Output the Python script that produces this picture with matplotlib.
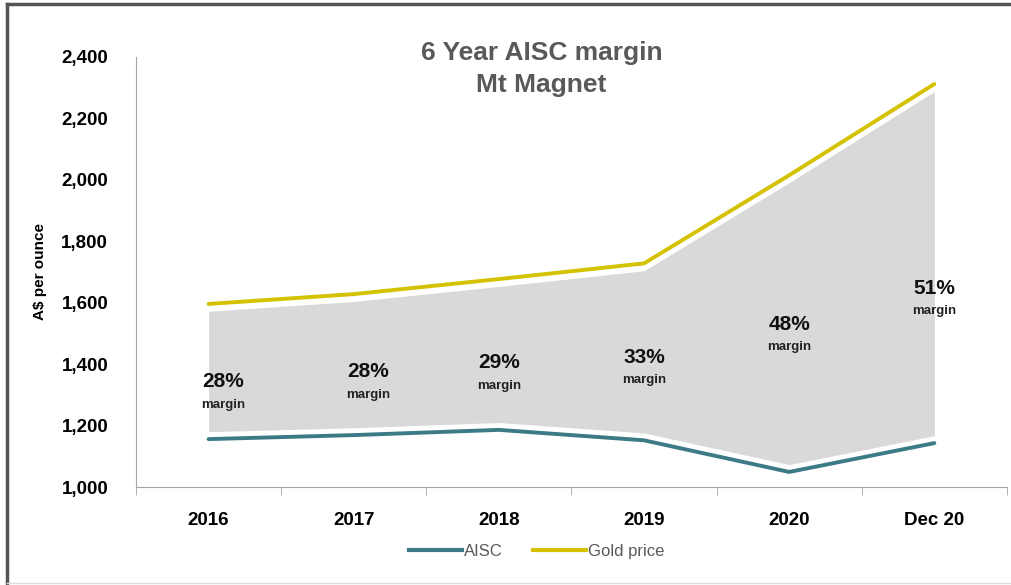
import numpy as np
import matplotlib.pyplot as plt
from matplotlib.lines import Line2D

tahun = ['2016', '2017', '2018', '2019', '2020', 'Dec 20']
harga_emas = [1596, 1628, 1677, 1728, 2015, 2312]
aisc = [1156, 1169, 1186, 1152, 1049, 1143]
label_margin = ['28%', '28%', '29%', '33%', '48%', '51%']
# posisi teks margin (nilai y)
posisi_label = [1342, 1375, 1404, 1423, 1530, 1647]

font = ['Liberation Sans Narrow', 'Liberation Sans', 'DejaVu Sans']
plt.rcParams['font.family'] = font

warna_aisc = '#3c7a86'
warna_emas = '#d4c200'
celah = 24

fig = plt.figure(figsize=(10.12, 5.85), dpi=100)
ax = fig.add_axes([0.1344, 0.1675, 0.8606, 0.7351])

x = np.arange(len(tahun))
emas = np.array(harga_emas)
biaya = np.array(aisc)
ax.fill_between(x, biaya + celah, emas - celah, color='#d9d9d9', lw=0, zorder=1)
ax.plot(x, biaya, color=warna_aisc, lw=2.8, solid_capstyle='round', zorder=3)
ax.plot(x, emas, color=warna_emas, lw=2.8, solid_capstyle='round', zorder=3)

for i, (m, yl) in enumerate(zip(label_margin, posisi_label)):
    dx = 0.1 if i < 2 else 0.0
    ax.text(i + dx, yl, m, ha='center', va='center', fontsize=15, fontweight='bold', color='#111111')
    ax.text(i + dx, yl - 75, 'margin', ha='center', va='center', fontsize=9.5, fontweight='bold', color='#222222')

ax.set_xlim(-0.5, 5.5)
ax.set_ylim(1000, 2400)
ax.set_yticks(range(1000, 2401, 200))
ax.set_yticklabels([f'{v:,}' for v in range(1000, 2401, 200)], fontsize=13.5, fontweight='bold')
ax.set_xticks(x)
ax.set_xticklabels(tahun, fontsize=13.5, fontweight='bold')
ax.set_xticks(np.arange(-0.5, 5.6, 1), minor=True)
ax.tick_params(axis='x', which='major', length=0, pad=18)
ax.tick_params(axis='x', which='minor', length=6, color='#a6a6a6', direction='out')
ax.tick_params(axis='y', length=0, pad=20)
for s in ['top', 'right']:
    ax.spines[s].set_visible(False)
for s in ['left', 'bottom']:
    ax.spines[s].set_color('#a6a6a6')
ax.set_ylabel('A$ per ounce', fontsize=11, fontweight='bold', labelpad=10)

fig.text(0.535, 0.882, '6 Year AISC margin\nMt Magnet', ha='center', va='center',
         fontsize=19, fontweight='bold', color='#595959', linespacing=1.45)

garis = [Line2D([0], [0], color=warna_aisc, lw=3), Line2D([0], [0], color=warna_emas, lw=3)]
fig.legend(garis, ['AISC', 'Gold price'], loc='center', bbox_to_anchor=(0.53, 0.058), ncol=2,
           frameon=False, fontsize=12, labelcolor='#595959', handlelength=3.2, handletextpad=0.1,
           columnspacing=1.8)

# bingkai
fig.add_artist(Line2D([0.007, 0.007], [0.0, 0.993], color='#555555', lw=2.5, transform=fig.transFigure))
fig.add_artist(Line2D([0.007, 1.0], [0.993, 0.993], color='#555555', lw=2.5, transform=fig.transFigure))
fig.add_artist(Line2D([0.007, 1.0], [0.004, 0.004], color='#dddddd', lw=1, transform=fig.transFigure))

plt.savefig('out.png', dpi=100)
